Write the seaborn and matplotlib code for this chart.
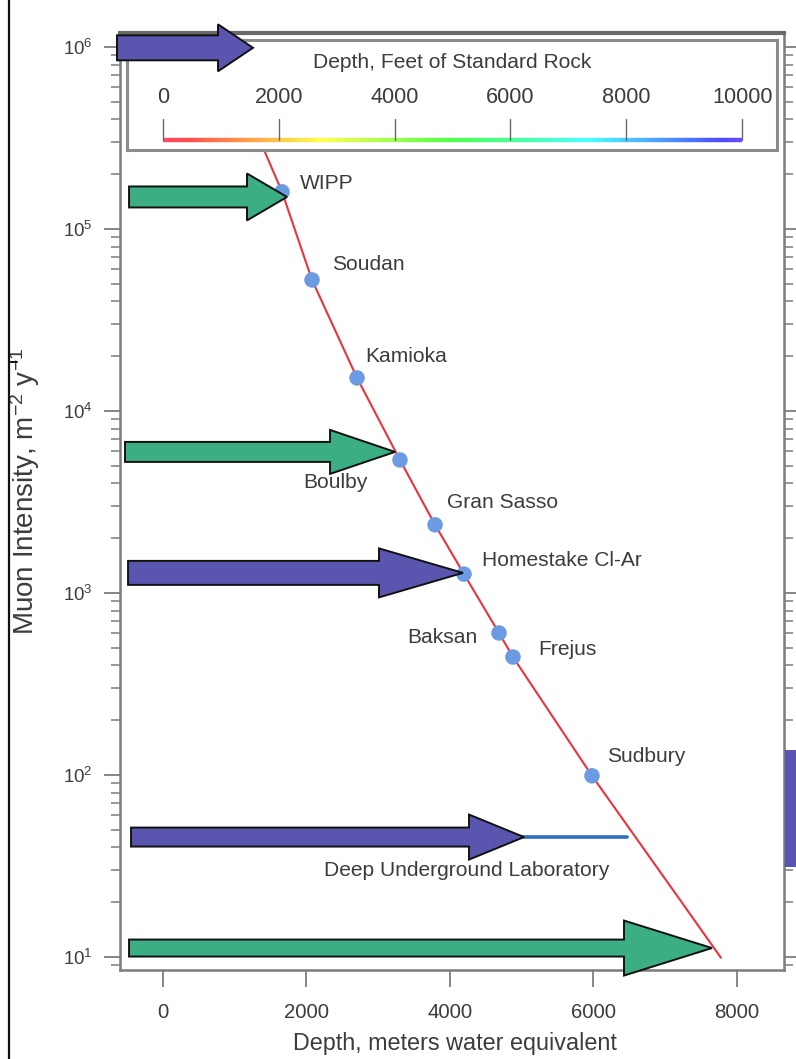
import numpy as np
import matplotlib
matplotlib.use("Agg")
import matplotlib.pyplot as plt
import seaborn as sns
from matplotlib import font_manager
from matplotlib.ticker import LogLocator, NullFormatter, LogFormatterSciNotation
from matplotlib.patches import Polygon, Rectangle
from matplotlib.collections import LineCollection
from matplotlib.lines import Line2D
from matplotlib.transforms import IdentityTransform

# ---------------- data ----------------
SITES = ["WIPP", "Soudan", "Kamioka", "Boulby", "Gran Sasso",
         "Homestake Cl-Ar", "Baksan", "Frejus", "Sudbury"]
SITE_DEPTH = [1660, 2078, 2706, 3305, 3794, 4198, 4686, 4881, 5983]          # m.w.e.
SITE_FLUX = [1.6e5, 5.25e4, 1.52e4, 5.38e3, 2.37e3, 1.27e3, 603, 445, 99]   # m^-2 y^-1

CURVE_DEPTH = [1409, 1660, 2078, 2706, 3305, 3794, 4198, 4686, 4881, 5983, 7211, 7782]
CURVE_FLUX = [2.72e5, 1.6e5, 5.25e4, 1.52e4, 5.38e3, 2.37e3, 1.27e3, 603, 445, 99, 20.6, 9.9]

DUL_LABEL = "Deep Underground Laboratory"
DUL_DEPTH = [4700, 6470]
DUL_FLUX = [45.6, 45.6]

X_TICKS = [0, 2000, 4000, 6000, 8000]
FEET_TICKS = [0, 2000, 4000, 6000, 8000, 10000]
FT_TO_MWE = 0.3048 * 2.65

# arrows point at these (depth, intensity) targets
ARROW_TIP_DEPTH = [1255, 1729, 3236, 4184, 5035, 7657]
ARROW_TIP_FLUX = [9.9e5, 1.5e5, 5.96e3, 1.29e3, 45.6, 11.2]
ARROW_TAIL_DEPTH = [-642, -474, -530, -488, -446, -474]

# ---------------- style ----------------
GREEN = "#3BAE84"
PURPLE = "#5A56B0"
ARROW_COLORS = [PURPLE, GREEN, GREEN, PURPLE, PURPLE, GREEN]
ARROW_SIZES = [(25, 47, 35), (21, 47, 40), (20, 44, 65), (24, 49, 84), (19, 45, 55), (17, 55, 88)]
LABEL_OFFSETS = [(18, -8, "left"), (20, -15, "left"), (8, -21, "left"), (-32, 22, "right"),
                 (12, -22, "left"), (18, -14, "left"), (-21, 5, "right"), (25, -8, "left"),
                 (15, -19, "left")]
RED = "#E8343A"
DOT = "#6B9BE3"
DULBLUE = "#2F6EC2"
TXT = "#3c3c3c"
SPINE = "#7c7c7c"

sns.set_style("ticks")
names = {f.name for f in font_manager.fontManager.ttflist}
NARROW = "Liberation Sans Narrow" in names
plt.rcParams["font.family"] = ["Liberation Sans Narrow", "Liberation Sans", "DejaVu Sans"] if NARROW \
    else ["Liberation Sans", "DejaVu Sans"]
plt.rcParams["mathtext.default"] = "regular"
F = 1.0 if NARROW else 0.84

W, H = 796, 1059
fig = plt.figure(figsize=(W / 100, H / 100), dpi=100)
fig.patch.set_facecolor("white")
ax = fig.add_axes([120 / W, 1 - 970 / H, 664 / W, 937 / H])
ax.set_yscale("log")
XLIM = (-600, 8661)
YLIM = (10 ** 0.9286, 10 ** 6.077)

sns.lineplot(x=CURVE_DEPTH, y=CURVE_FLUX, ax=ax, color=RED, lw=1.5, sort=False, zorder=2)
sns.scatterplot(x=SITE_DEPTH, y=SITE_FLUX, ax=ax, s=125, color=DOT, edgecolor="none", zorder=3)
sns.lineplot(x=DUL_DEPTH, y=DUL_FLUX, ax=ax, color=DULBLUE, lw=2.6, zorder=2)

ax.set_xlim(*XLIM)
ax.set_ylim(*YLIM)
ax.set_xticks(X_TICKS)
ax.set_xticklabels([str(v) for v in X_TICKS])
ax.yaxis.set_major_locator(LogLocator(base=10, numticks=10))
ax.yaxis.set_major_formatter(LogFormatterSciNotation())
ax.yaxis.set_minor_locator(LogLocator(base=10, subs=range(2, 10), numticks=40))
ax.yaxis.set_minor_formatter(NullFormatter())

for s in ax.spines.values():
    s.set_color(SPINE)
    s.set_linewidth(1.8)
ax.spines["top"].set_linewidth(3.0)
ax.spines["top"].set_color("#6a6a6a")
ax.tick_params(axis="y", which="major", length=11.5, width=1.3, color=SPINE, pad=8,
               labelsize=16 * F, labelcolor=TXT, right=True, direction="out")
ax.tick_params(axis="y", which="minor", length=6.5, width=1.1, color=SPINE, right=True, direction="out")
ax.tick_params(axis="x", which="major", length=12, width=1.3, color=SPINE, pad=12,
               labelsize=17.5 * F, labelcolor=TXT, direction="out")

ax.set_xlabel("Depth, meters water equivalent", fontsize=20 * F, color=TXT)
ax.xaxis.set_label_coords(0.505, -0.078)
ax.xaxis.label.set_verticalalignment("center")
ax.set_ylabel("Muon Intensity, m$^{-2}$ y$^{-1}$", fontsize=20, color=TXT,
              family=["Liberation Sans", "DejaVu Sans"])
ax.yaxis.set_label_coords(-0.143, 0.511)
ax.yaxis.label.set_verticalalignment("center")

# site labels
for name, x, y, (dx, dy, ha) in zip(SITES, SITE_DEPTH, SITE_FLUX, LABEL_OFFSETS):
    ax.annotate(name, (x, y), xytext=(dx * 0.72, -dy * 0.72), textcoords="offset points",
                ha=ha, va="center", fontsize=18 * F, color=TXT, zorder=4)
ax.text(4240, 30, DUL_LABEL, ha="center", va="center", fontsize=18 * F, color=TXT, zorder=4)

# ---------------- depth legend (feet of standard rock) ----------------
bx0, bx1, by0, by1 = 127, 777, 40, 150
lax = fig.add_axes([bx0 / W, 1 - by1 / H, (bx1 - bx0) / W, (by1 - by0) / H])
span = XLIM[1] - XLIM[0]
l_mwe = XLIM[0] + (bx0 - 120) / 664 * span
r_mwe = XLIM[0] + (bx1 - 120) / 664 * span
lax.set_xlim(l_mwe / FT_TO_MWE, r_mwe / FT_TO_MWE)
lax.set_ylim(by1 - by0, 0)
lax.set_xticks([])
lax.set_yticks([])
lax.set_facecolor("white")
for s in lax.spines.values():
    s.set_color("#8c8c8c")
    s.set_linewidth(2.2)
ft = np.linspace(0, 10000, 301)
segs = [[(ft[i], 100), (ft[i + 1], 100)] for i in range(len(ft) - 1)]
cols = plt.get_cmap("gist_rainbow")(ft[:-1] / 10000 * 0.8)
lax.add_collection(LineCollection(segs, colors=cols, linewidths=3.2, alpha=0.7))
for v in FEET_TICKS:
    lax.plot([v, v], [79, 100], color="#6a6a6a", lw=1.0)
    lax.text(v, 57, str(v), ha="center", va="center", fontsize=18.5 * F, color=TXT)
lax.text(5000, 22, "Depth, Feet of Standard Rock", ha="center", va="center",
         fontsize=18 * F, color=TXT)

# ---------------- block arrows ----------------
for tx, ty, tail, col, (bh, hh, hl) in zip(ARROW_TIP_DEPTH, ARROW_TIP_FLUX, ARROW_TAIL_DEPTH,
                                            ARROW_COLORS, ARROW_SIZES):
    px, py = ax.transData.transform((tx, ty))
    qx, _ = ax.transData.transform((tail, ty))
    hx = px - hl
    verts = [(qx, py - bh / 2), (hx, py - bh / 2), (hx, py - hh / 2), (px, py),
             (hx, py + hh / 2), (hx, py + bh / 2), (qx, py + bh / 2)]
    fig.add_artist(Polygon(verts, closed=True, facecolor=col, edgecolor="#111111",
                           lw=1.4, transform=IdentityTransform(), zorder=5))

# page decorations
fig.add_artist(Line2D([9 / W, 9 / W], [0, 1], transform=fig.transFigure, color="#111111", lw=1.6))
fig.add_artist(Line2D([9 / W, 17 / W], [1 - 362 / H, 1 - 362 / H], transform=fig.transFigure,
                      color="#111111", lw=1.4))
fig.add_artist(Rectangle((785 / W, 1 - 867 / H), 11 / W, 117 / H, transform=fig.transFigure,
                         facecolor=PURPLE, edgecolor="none"))

fig.savefig("out.png", dpi=100)
